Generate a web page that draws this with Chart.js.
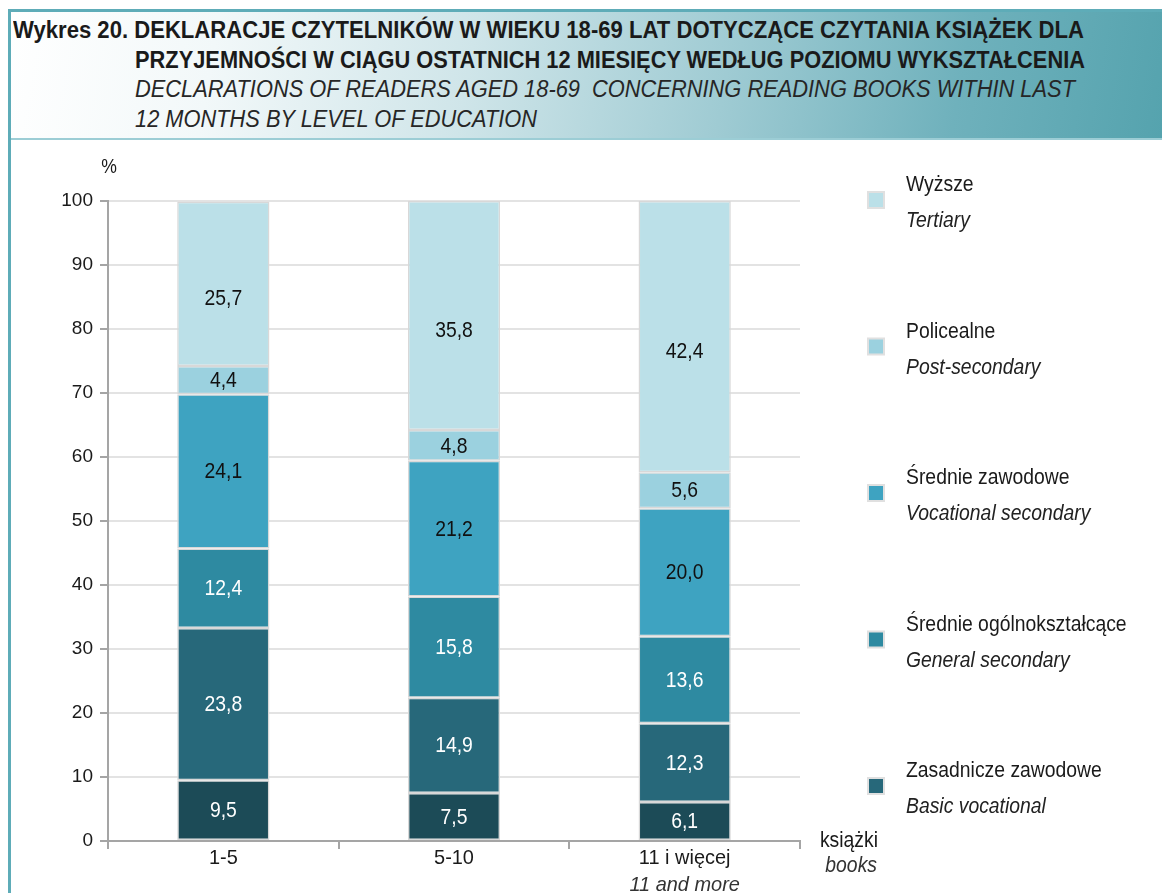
<!DOCTYPE html>
<html><head><meta charset="utf-8">
<script src="https://cdn.jsdelivr.net/npm/chart.js@4.4.1/dist/chart.umd.min.js"></script>
<style>
html,body{margin:0;padding:0;background:#fff;width:1162px;height:893px;overflow:hidden;}
#titlebox{position:absolute;left:9px;top:9px;width:1153px;height:126px;border-top:3px solid #5eacb8;border-bottom:2px solid #9ccdd5;
background:linear-gradient(100deg,#ffffff 0%,#f2f8f9 18%,#cfe5e9 40%,#9fcbd3 62%,#6fb1bc 82%,#55a3ae 100%);}
#leftline{position:absolute;left:8px;top:9px;width:3px;height:884px;background:#5eacb8;}
.t{position:absolute;white-space:nowrap;line-height:30px;height:30px;font-size:23px;transform-origin:0 50%;
font-family:"Liberation Sans",Arial,sans-serif;color:#1a1a1a;}
.b{font-weight:bold;}
.i{font-style:italic;color:#262626;}
canvas{position:absolute;left:0;top:0;}
</style></head>
<body>
<div id="titlebox"></div>
<div id="leftline"></div>
<div class="t b" style="left:13px;top:15px" data-w="1071">Wykres 20. DEKLARACJE CZYTELNIKÓW W WIEKU 18-69 LAT DOTYCZĄCE CZYTANIA KSIĄŻEK DLA</div>
<div class="t b" style="left:135px;top:45px" data-w="950">PRZYJEMNOŚCI W CIĄGU OSTATNICH 12 MIESIĘCY WEDŁUG POZIOMU WYKSZTAŁCENIA</div>
<div class="t i" style="left:135px;top:74px" data-w="940">DECLARATIONS OF READERS AGED 18-69&nbsp; CONCERNING READING BOOKS WITHIN LAST</div>
<div class="t i" style="left:135px;top:104px" data-w="402">12 MONTHS BY LEVEL OF EDUCATION</div>
<canvas id="c" width="1162" height="893"></canvas>
<script>
// ---- data ----
const categories = ['1-5', '5-10', '11 i więcej'];
const categoriesEn = ['', '', '11 and more'];
const yTicks = [0, 10, 20, 30, 40, 50, 60, 70, 80, 90, 100];
const seriesPl = ['Podstawowe', 'Zasadnicze zawodowe', 'Średnie ogólnokształcące', 'Średnie zawodowe', 'Policealne', 'Wyższe'];
const seriesEn = ['Primary', 'Basic vocational', 'General secondary', 'Vocational secondary', 'Post-secondary', 'Tertiary'];
const primary = [9.5, 7.5, 6.1];
const basicVocational = [23.8, 14.9, 12.3];
const generalSecondary = [12.4, 15.8, 13.6];
const vocationalSecondary = [24.1, 21.2, 20.0];
const postSecondary = [4.4, 4.8, 5.6];
const tertiary = [25.7, 35.8, 42.4];
const legendShown = [false, true, true, true, true, true];

// ---- styles ----
const colors = ['#1c4b57', '#27687a', '#2e8aa1', '#3ea3c1', '#9bd1df', '#bbe0e8'];
const labelColors = ['#ffffff', '#ffffff', '#ffffff', '#111111', '#111111', '#111111'];
const labelShift = [0, 0, 0, 0, 0, 14];
const FONT = '"Liberation Sans", Arial, sans-serif';
const SX = 0.88;

document.querySelectorAll('.t').forEach(el => {
  const w = el.getBoundingClientRect().width;
  el.style.transform = 'scaleX(' + (+el.dataset.w / w) + ')';
});

function txt(ctx, s, x, y, font, color, align, sx) {
  ctx.save();
  ctx.font = font;
  ctx.fillStyle = color;
  ctx.textAlign = align;
  ctx.translate(x, y);
  ctx.scale(sx, 1);
  ctx.fillText(s, 0, 0);
  ctx.restore();
}

const values = [primary, basicVocational, generalSecondary, vocationalSecondary, postSecondary, tertiary];
const datasets = values.map((v, i) => ({
  label: seriesPl[i],
  data: v,
  backgroundColor: colors[i],
  borderColor: '#d8d8d8',
  borderWidth: 1.5,
  borderSkipped: false,
  barPercentage: 0.4,
  categoryPercentage: 1.0
}));

const fmt = v => v.toFixed(1).replace('.', ',');

const labelsPlugin = {
  id: 'segLabels',
  afterDatasetsDraw(chart) {
    const ctx = chart.ctx;
    ctx.save();
    ctx.textBaseline = 'middle';
    chart.data.datasets.forEach((ds, di) => {
      const meta = chart.getDatasetMeta(di);
      meta.data.forEach((el, i) => {
        txt(ctx, fmt(ds.data[i]), el.x, (el.y + el.base) / 2 + 1 + labelShift[di], '22px ' + FONT, labelColors[di], 'center', SX);
      });
    });
    ctx.restore();
  }
};

const extrasPlugin = {
  id: 'extras',
  afterDraw(chart) {
    const ctx = chart.ctx;
    const xs = chart.scales.x;
    ctx.save();
    ctx.textBaseline = 'alphabetic';
    categories.forEach((c, i) => {
      const x = xs.getPixelForValue(i);
      txt(ctx, c, x, 864, '21px ' + FONT, '#1a1a1a', 'center', 0.95);
      if (categoriesEn[i]) txt(ctx, categoriesEn[i], x, 891, 'italic 21px ' + FONT, '#333333', 'center', 0.95);
    });
    txt(ctx, '%', 109, 173, '20px ' + FONT, '#1a1a1a', 'center', SX);
    txt(ctx, 'książki', 878, 847, '22px ' + FONT, '#1a1a1a', 'right', SX);
    txt(ctx, 'books', 877, 872, 'italic 22px ' + FONT, '#333333', 'right', SX);
    // legend
    const order = [5, 4, 3, 2, 1];
    let cy = 200;
    order.forEach(di => {
      if (!legendShown[di]) return;
      ctx.fillStyle = '#e0e0e0';
      ctx.fillRect(867, cy - 9, 18, 18);
      ctx.fillStyle = colors[di];
      ctx.fillRect(869, cy - 7, 14, 14);
      txt(ctx, seriesPl[di], 906, cy - 9, '22px ' + FONT, '#1a1a1a', 'left', SX);
      txt(ctx, seriesEn[di], 906, cy + 27, 'italic 22px ' + FONT, '#222222', 'left', SX);
      cy += 146.5;
    });
    ctx.restore();
  }
};

new Chart(document.getElementById('c'), {
  type: 'bar',
  data: { labels: categories, datasets },
  options: {
    responsive: false,
    animation: false,
    devicePixelRatio: 1,
    layout: { padding: { top: 201, right: 362, left: 0, bottom: 0 } },
    plugins: { legend: { display: false }, tooltip: { enabled: false } },
    scales: {
      x: {
        stacked: true,
        offset: true,
        grid: { display: true, offset: true, drawOnChartArea: false, drawTicks: true, tickLength: 8, color: '#a5a5a5', lineWidth: 2 },
        border: { display: true, color: '#a5a5a5', width: 2 },
        ticks: { display: false },
        afterFit: s => { s.height = 52; }
      },
      y: {
        stacked: true,
        min: 0, max: 100,
        afterBuildTicks: s => { s.ticks = yTicks.map(v => ({ value: v })); },
        ticks: { font: { size: 19, family: FONT }, color: '#1a1a1a', padding: 7 },
        grid: { color: '#e3e3e3', lineWidth: 2, tickColor: '#a5a5a5', tickLength: 8, drawTicks: true },
        border: { display: true, color: '#a5a5a5', width: 2 },
        afterFit: s => { s.width = 108; }
      }
    }
  },
  plugins: [labelsPlugin, extrasPlugin]
});
</script>
</body></html>
